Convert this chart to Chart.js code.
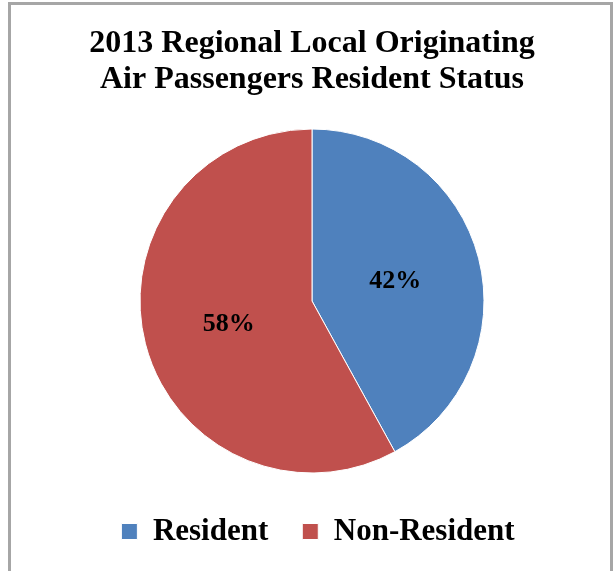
<!DOCTYPE html>
<html>
<head>
<meta charset="utf-8">
<script src="https://cdn.jsdelivr.net/npm/chart.js@4"></script>
<style>
  html, body { margin: 0; padding: 0; background: #fff; }
  #frame { position: absolute; left: 8px; top: 2px; width: 605px; height: 600px; border: 3px solid #a6a6a6; box-sizing: border-box; }
  #wrap { position: absolute; left: 0; top: 0; width: 614px; height: 571px; }
</style>
</head>
<body>
<div id="frame"></div>
<div id="wrap"><canvas id="pieChart" width="614" height="571"></canvas></div>
<script>
const titleLines = ['2013 Regional Local Originating', 'Air Passengers Resident Status'];
const categories = ['Resident', 'Non-Resident'];
const shares = [42, 58];
const colors = ['#4f81bd', '#c0504d'];
const serif = "'Liberation Serif', 'Times New Roman', serif";

// percent labels inside each slice, half way out
const sliceLabels = {
    id: 'sliceLabels',
    afterLayout(chart) {
        // legend sits a little right of the pie in the original
        chart.legend.left += 6;
        chart.legend.right += 6;
    },
    afterDatasetsDraw(chart) {
        const ctx = chart.ctx;
        const meta = chart.getDatasetMeta(0);
        const total = shares.reduce((a, b) => a + b, 0);
        ctx.save();
        ctx.font = 'bold 26px ' + serif;
        ctx.fillStyle = '#000';
        ctx.textAlign = 'center';
        ctx.textBaseline = 'middle';
        meta.data.forEach(function(arc, i) {
            const mid = (arc.startAngle + arc.endAngle) / 2;
            const r = arc.outerRadius * 0.5;
            ctx.fillText(Math.round(shares[i] / total * 100) + '%', arc.x + Math.cos(mid) * r, arc.y + Math.sin(mid) * r + 2);
        });
        ctx.restore();
    }
};

const ctx = document.getElementById('pieChart').getContext('2d');
new Chart(ctx, {
    type: 'pie',
    data: {
        labels: categories,
        datasets: [{
            data: shares,
            backgroundColor: colors,
            borderColor: '#ffffff',
            borderWidth: 1,
            radius: 172
        }]
    },
    options: {
        responsive: false,
        animation: false,
        layout: { padding: { top: 0, bottom: 14, left: 10, right: 0 } },
        plugins: {
            title: {
                display: true,
                text: titleLines,
                color: '#000',
                font: { family: serif, size: 32, weight: 'bold', lineHeight: 1.125 },
                padding: { top: 26, bottom: 22 }
            },
            legend: {
                position: 'bottom',
                labels: {
                    color: '#000',
                    font: { family: serif, size: 31, weight: 'bold' },
                    boxWidth: 16,
                    boxHeight: 16,
                    padding: 34
                }
            },
            tooltip: { enabled: false }
        }
    },
    plugins: [sliceLabels]
});
</script>
</body>
</html>
